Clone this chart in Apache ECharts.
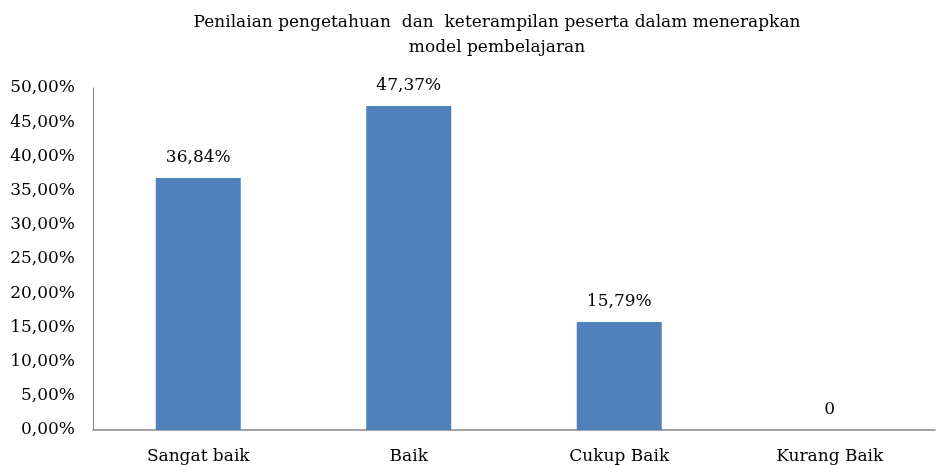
<!DOCTYPE html>
<html>
<head>
<meta charset="utf-8">
<script src="https://cdn.jsdelivr.net/npm/echarts@6/dist/echarts.min.js"></script>
<style>
html,body{margin:0;padding:0;background:#fff;}
#chart{width:943px;height:465px;}
</style>
</head>
<body>
<div id="chart"></div>
<script>
var categories = ['Sangat baik', 'Baik', 'Cukup Baik', 'Kurang Baik'];
var percentValues = [36.84, 47.37, 15.79, 0];
var titleText = 'Penilaian pengetahuan  dan  keterampilan peserta dalam menerapkan\nmodel pembelajaran';

var fontFam = '"DejaVu Serif", "Liberation Serif", serif';
function pct(v) {
    return v.toFixed(2).replace('.', ',') + '%';
}

var chart = echarts.init(document.getElementById('chart'));
chart.setOption({
    backgroundColor: '#fff',
    animation: false,
    title: {
        text: titleText,
        left: 492,
        top: 5,
        textAlign: 'center',
        textStyle: {
            fontFamily: fontFam,
            fontSize: 17,
            fontWeight: 'normal',
            color: '#000',
            lineHeight: 25,
            align: 'center'
        }
    },
    grid: {
        left: 93,
        right: 8,
        top: 88,
        bottom: 35
    },
    xAxis: {
        type: 'category',
        data: categories,
        axisLine: {lineStyle: {color: '#868686', width: 1.5}},
        axisTick: {show: false},
        axisLabel: {
            fontFamily: fontFam,
            fontSize: 17,
            color: '#000',
            margin: 18
        }
    },
    yAxis: {
        type: 'value',
        min: 0,
        max: 50,
        interval: 5,
        axisLine: {show: true, lineStyle: {color: '#868686', width: 1}},
        axisTick: {show: false},
        splitLine: {show: false},
        axisLabel: {
            fontFamily: fontFam,
            fontSize: 17,
            color: '#000',
            margin: 18,
            formatter: function (v) { return pct(v); }
        }
    },
    series: [{
        type: 'bar',
        data: percentValues,
        barWidth: 85,
        itemStyle: {color: '#4F81BD'},
        label: {
            show: true,
            position: 'top',
            distance: 12,
            fontFamily: fontFam,
            fontSize: 17,
            color: '#000',
            formatter: function (p) { return p.value === 0 ? '0' : pct(p.value); }
        }
    }]
});
</script>
</body>
</html>
